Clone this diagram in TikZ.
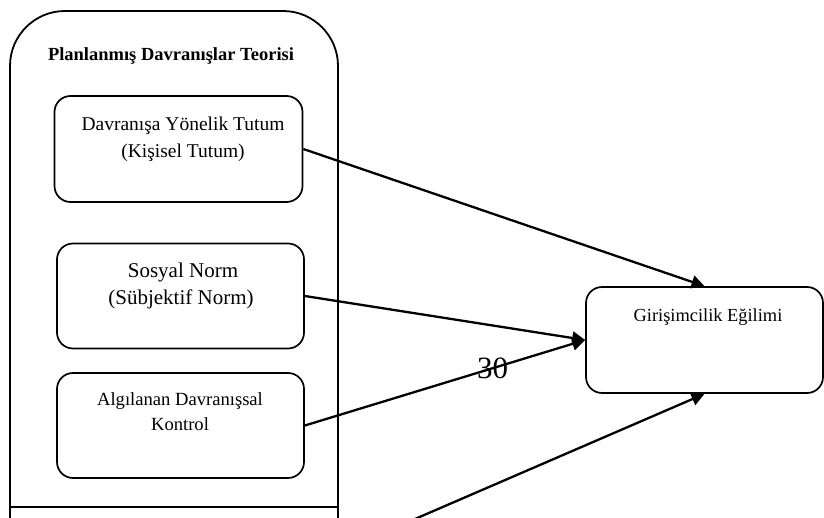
\documentclass[tikz,border=0pt]{standalone}
\usepackage{fontspec}
\setmainfont{Liberation Serif}
\usetikzlibrary{arrows.meta}
\begin{document}
\begin{tikzpicture}[x=1pt,y=-1pt,
  outerline/.style={line width=1.8pt},
  innerbox/.style={draw,line width=1.7pt,rounded corners=16pt,inner sep=0pt,minimum width=248pt,minimum height=106pt},
  lbl/.style={anchor=base,inner sep=0pt},
  conn/.style={line width=2.3pt,-{Triangle[length=13pt,width=13pt]}}]
\useasboundingbox (0,0) rectangle (824,518);
% outer frame
\draw[outerline,rounded corners=55pt] (10,530) -- (10,11) -- (338,11) -- (338,530);
\draw[outerline] (10,507) -- (338,507);
\node[lbl,font=\fontsize{18.5pt}{22pt}\selectfont\bfseries] (title) at (171,61) {Planlanmış Davranışlar Teorisi};
% inner boxes
\node[innerbox] (b1) at (178.5,149) {};
\node[lbl,font=\fontsize{19.5pt}{23pt}\selectfont] (t1a) at (183,131) {Davranışa Yönelik Tutum};
\node[lbl,font=\fontsize{19.5pt}{23pt}\selectfont] (t1b) at (183,158) {(Kişisel Tutum)};
\node[innerbox,minimum width=247pt,minimum height=105pt] (b2) at (180.5,296) {};
\node[lbl,font=\fontsize{21pt}{25pt}\selectfont] (t2a) at (183,278) {Sosyal Norm};
\node[lbl,font=\fontsize{21pt}{25pt}\selectfont] (t2b) at (181,305) {(Sübjektif Norm)};
\node[innerbox,minimum width=247pt,minimum height=105pt] (b3) at (180.5,425.5) {};
\node[lbl,font=\fontsize{18.6pt}{22pt}\selectfont] (t3a) at (180,405) {Algılanan Davranışsal};
\node[lbl,font=\fontsize{18.6pt}{22pt}\selectfont] (t3b) at (180,430) {Kontrol};
% target
\node[innerbox,minimum width=237pt,minimum height=106pt] (goal) at (704.5,340) {};
\node[lbl,font=\fontsize{18.4pt}{22pt}\selectfont] (tg) at (708,322) {Girişimcilik Eğilimi};
% connectors
\coordinate (low) at (408,522);
\draw[conn] (b1.east) -- (goal.north);
\draw[conn] (b2.east) -- (goal.west);
\draw[conn] (b3.east) -- (goal.west);
\draw[conn] (low) -- (goal.south);
\node[lbl,font=\fontsize{31pt}{35pt}\selectfont] (num) at (492.5,378) {30};
\end{tikzpicture}
\end{document}
